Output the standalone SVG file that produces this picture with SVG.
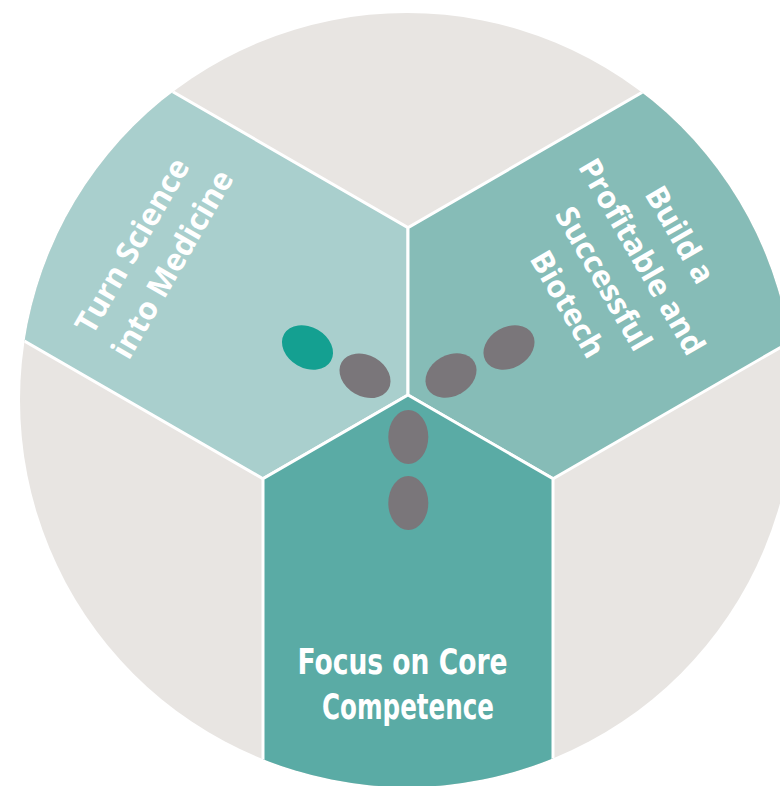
<svg xmlns="http://www.w3.org/2000/svg" width="780" height="786" viewBox="0 0 780 786">
  <style>
    .bg { fill: #e8e5e2; }
    .panel { stroke: #ffffff; stroke-width: 3; stroke-linejoin: miter; }
    .p-left { fill: #a9cfcd; }
    .p-right { fill: #86bcb7; }
    .p-bottom { fill: #5aaba5; }
    .dot { fill: #7a767a; }
    .dot-accent { fill: #14a091; }
    .label { font-family: "Open Sans", "Liberation Sans", sans-serif; font-weight: bold; font-size: 31px; fill: #ffffff; text-anchor: middle; }
    .label-narrow { font-family: "Liberation Sans Narrow", "DejaVu Sans Condensed", "Liberation Sans", sans-serif; font-weight: bold; font-size: 35px; fill: #ffffff; text-anchor: middle; }
  </style>
  <defs>
    <clipPath id="disc">
      <circle cx="407" cy="400" r="387"/>
    </clipPath>
  </defs>

  <rect width="780" height="786" fill="#ffffff"/>

  <!-- grey disc behind the three arms -->
  <circle class="bg" cx="407" cy="400" r="387"/>

  <!-- upper-left arm -->
  <g id="turn-science">
    <polygon class="panel p-left" clip-path="url(#disc)"
             points="408,395 263,478.7 -101.8,268.1 43.2,16.9 408,227.6"/>
    <text class="label" transform="translate(153,253) rotate(-60)">
      <tspan x="0" y="-11">Turn Science</tspan>
      <tspan x="0" y="33">into Medicine</tspan>
    </text>
  </g>

  <!-- upper-right arm -->
  <g id="build-biotech">
    <polygon class="panel p-right" clip-path="url(#disc)"
             points="408,395 408,227.6 772.8,16.9 917.8,268.1 553,478.7"/>
    <text class="label" transform="translate(625,271) rotate(60)">
      <tspan x="0" y="-55">Build a</tspan>
      <tspan x="0" y="-11">Profitable and</tspan>
      <tspan x="0" y="33">Successful</tspan>
      <tspan x="0" y="77">Biotech</tspan>
    </text>
  </g>

  <!-- lower arm -->
  <g id="core-competence">
    <polygon class="panel p-bottom" clip-path="url(#disc)"
             points="408,395 553,478.7 553,900 263,900 263,478.7"/>
    <text class="label-narrow">
      <tspan x="408" y="674" textLength="210" lengthAdjust="spacingAndGlyphs">Focus on Core</tspan>
      <tspan x="408" y="719" textLength="172" lengthAdjust="spacingAndGlyphs">Competence</tspan>
    </text>
  </g>

  <!-- oval markers around the hub -->
  <g id="markers">
    <ellipse class="dot-accent" cx="307.5" cy="347.5" rx="20.5" ry="27" transform="rotate(-60 307.5 347.5)"/>
    <ellipse class="dot" cx="365" cy="375.8" rx="20.5" ry="27" transform="rotate(-60 365 375.8)"/>
    <ellipse class="dot" cx="451" cy="375.5" rx="20.5" ry="27" transform="rotate(60 451 375.5)"/>
    <ellipse class="dot" cx="509" cy="347.5" rx="20.5" ry="27" transform="rotate(60 509 347.5)"/>
    <ellipse class="dot" cx="408.3" cy="437" rx="20" ry="27"/>
    <ellipse class="dot" cx="408.3" cy="503" rx="20" ry="27"/>
  </g>
</svg>
